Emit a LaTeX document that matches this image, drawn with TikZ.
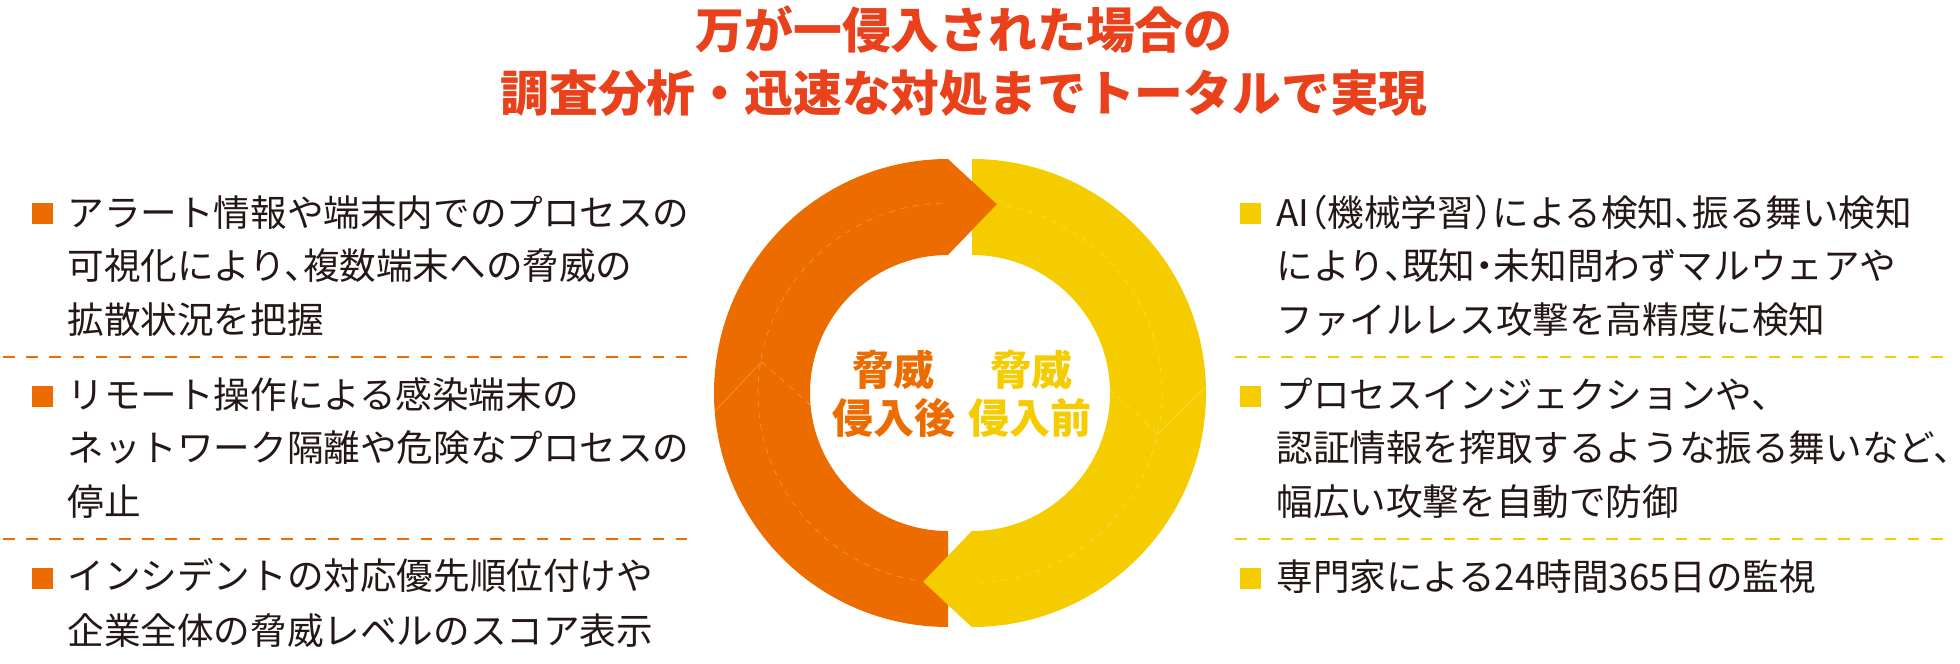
\documentclass[tikz,border=0pt]{standalone}
\usepackage{fontspec}
\usepackage{tikz}
\usepackage[dvipsnames]{xcolor}
\newfontfamily\jpfont{Noto Sans CJK JP}
\newfontfamily\jpheavy{Noto Sans CJK JP Black}
\newfontfamily\jpbody{Noto Sans CJK JP}[RawFeature=+halt]

\definecolor{ringorange}{RGB}{236,108,0}
\definecolor{ringyellow}{RGB}{245,204,0}
\definecolor{titlered}{RGB}{232,65,28}
\definecolor{textblack}{RGB}{35,24,21}

\tikzset{
	itemtxt/.style={anchor=base west, inner sep=0pt, text=textblack, font=\jpbody\fontsize{18.3}{20}\selectfont},
	bulletsq/.style={rectangle, inner sep=0pt, minimum size=10.5pt},
	sepdash/.style={line width=1.2pt, dash pattern=on 5.8pt off 5.8pt},
	titletxt/.style={anchor=base, inner sep=0pt, text=titlered, font=\jpheavy\fontsize{24.4}{30}\selectfont},
	ringtxt/.style={anchor=base, inner sep=0pt, font=\jpfont\bfseries\fontsize{20.5}{24}\selectfont},
	seam/.style={draw=white, draw opacity=0.3, line width=0.3pt}
}

\begin{document}
\begin{tikzpicture}[x=0.5pt,y=0.5pt,yscale=-1,xscale=1]
			\useasboundingbox (0,0) rectangle (1960,664);

			% Text Node
			\node[titletxt] (ttl1) at (964,48.5) {万が一侵入された場合の};
			% Text Node
			\node[titletxt] (ttl2) at (964,111) {調査分析・迅速な対処までトータルで実現};

			%Ring centres
			\coordinate (oc) at (948,393);
			\coordinate (yc) at (972,393);
			%Shape: Yellow half ring
			\fill[ringyellow, shift={(yc)}] (270:138) -- (270:234) arc[start angle=270, end angle=450, radius=234] -- (464.5:195) -- (450:138) arc[start angle=450, end angle=270, radius=138] -- cycle;
			%Shape: Orange half ring
			\fill[ringorange, shift={(oc)}] (90:138) -- (90:234) arc[start angle=90, end angle=270, radius=234] -- (284.5:195) -- (270:138) arc[start angle=270, end angle=90, radius=138] -- cycle;
			%Shape: Yellow arrow tip over the orange tail
			\fill[ringyellow, shift={(yc)}] (90:234) -- (104.5:195) -- (90:138) -- cycle;
			%Faint seams
			\draw[seam, shift={(oc)}] (175.5:234) -- (189.5:189);
			\draw[seam, dashed, shift={(oc)}] (189.5:189) -- (175:138);
			\draw[seam, dashed, shift={(oc)}] (100:190) arc[start angle=100, end angle=270, radius=190];
			\draw[seam, shift={(yc)}] (-1.5:234) -- (12.5:190);
			\draw[seam, dashed, shift={(yc)}] (12.5:190) -- (-1.5:138);
			\draw[seam, dashed, shift={(yc)}] (280:190) arc[start angle=280, end angle=450, radius=190];

			% Text Node
			\node[ringtxt, text=ringorange] (postA) at (893,385) {脅威};
			% Text Node
			\node[ringtxt, text=ringorange] (postB) at (894,433) {侵入後};
			% Text Node
			\node[ringtxt, text=ringyellow] (preA) at (1031,385) {脅威};
			% Text Node
			\node[ringtxt, text=ringyellow] (preB) at (1030,433) {侵入前};

			%Straight Lines: separators
			\draw[sepdash, ringorange] (3,357) -- (690,357);
			\draw[sepdash, ringorange] (3,539) -- (690,539);
			\draw[sepdash, ringyellow] (1235,357) -- (1952,357);
			\draw[sepdash, ringyellow] (1235,539) -- (1952,539);

			% Bullets
			\node[bulletsq, fill=ringorange] (bL1) at (42.5,213.5) {};
			\node[bulletsq, fill=ringorange] (bL2) at (42.5,396.5) {};
			\node[bulletsq, fill=ringorange] (bL3) at (42.5,578) {};
			\node[bulletsq, fill=ringyellow] (bR1) at (1250,213.5) {};
			\node[bulletsq, fill=ringyellow] (bR2) at (1250,396.5) {};
			\node[bulletsq, fill=ringyellow] (bR3) at (1250,578) {};

			% Text Node
			\node[itemtxt] (L1a) at (67,226) {アラート情報や端末内でのプロセスの};
			\node[itemtxt] (L1b) at (67,279.5) {可視化により、複数端末への脅威の};
			\node[itemtxt] (L1c) at (67,333.5) {拡散状況を把握};
			% Text Node
			\node[itemtxt] (L2a) at (67,408) {リモート操作による感染端末の};
			\node[itemtxt] (L2b) at (67,461) {ネットワーク隔離や危険なプロセスの};
			\node[itemtxt] (L2c) at (67,515.5) {停止};
			% Text Node
			\node[itemtxt] (L3a) at (67,589) {インシデントの対応優先順位付けや};
			\node[itemtxt] (L3b) at (67,644) {企業全体の脅威レベルのスコア表示};

			% Text Node
			\node[itemtxt] (R1a) at (1276,226) {AI（機械学習）による検知、振る舞い検知};
			\node[itemtxt] (R1b) at (1276,279.5) {により、既知・未知問わずマルウェアや};
			\node[itemtxt] (R1c) at (1276,333.5) {ファイルレス攻撃を高精度に検知};
			% Text Node
			\node[itemtxt] (R2a) at (1276,408) {プロセスインジェクションや、};
			\node[itemtxt] (R2b) at (1276,461) {認証情報を搾取するような振る舞いなど、};
			\node[itemtxt] (R2c) at (1276,515.5) {幅広い攻撃を自動で防御};
			% Text Node
			\node[itemtxt] (R3a) at (1276,590.5) {専門家による24時間365日の監視};
		\end{tikzpicture}
\end{document}
